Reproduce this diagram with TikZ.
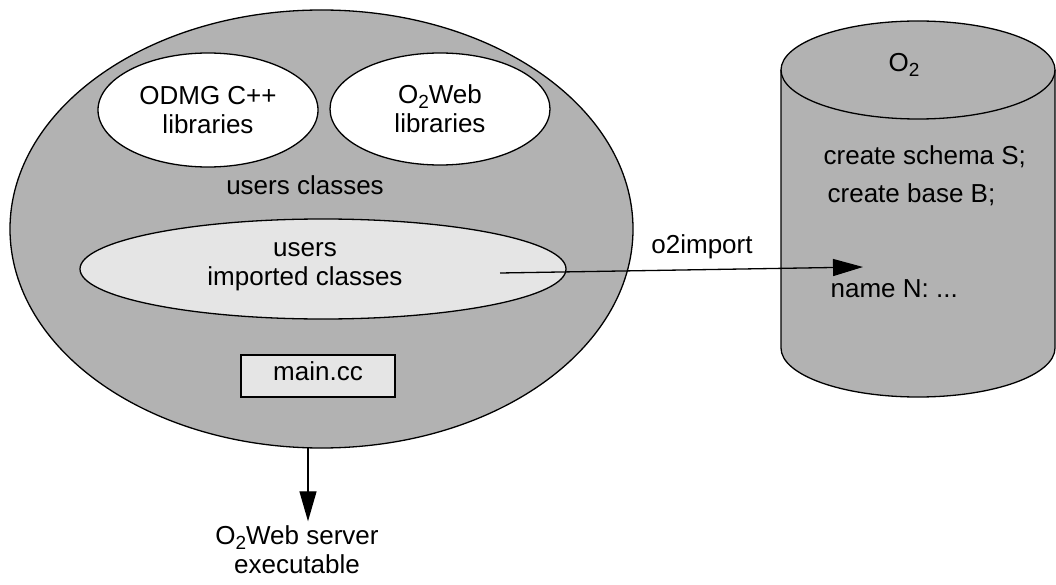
\documentclass[tikz,border=0pt]{standalone}
\usepackage{fontspec}
\setmainfont{Liberation Sans}
\usetikzlibrary{shapes, arrows.meta, positioning}
\definecolor{bodygray}{gray}{0.7}
\definecolor{palegray}{gray}{0.9}
\newcommand{\Otwo}{O\raisebox{-5pt}{\fontsize{19}{19}\selectfont 2}}

\begin{document}
\begin{tikzpicture}[x=1pt, y=-1pt, line width=1.3pt,
    every node/.style={font=\fontsize{26}{29}\selectfont, inner sep=4pt},
    blob/.style={draw, ellipse, inner sep=0pt},
    >={Triangle[length=30pt, width=17pt]}]
    \useasboundingbox (0,0) rectangle (1056,585);

    % Draw the application
    \node (app)  [blob, fill=bodygray, minimum width=623pt, minimum height=438pt] at (321.5,229) {};
    \node (odmg) [blob, fill=white, align=center, minimum width=220pt, minimum height=114pt] at (208,110) {ODMG C++\\libraries};
    \node (web)  [blob, fill=white, align=center, minimum width=220pt, minimum height=112pt] at (440,109) {\Otwo Web\\libraries};
    \node (users) [anchor=base] at (305,195) {users classes};
    \node (imp)  [blob, fill=palegray, minimum width=486pt, minimum height=100pt] at (323,269) {};
    \node (imptext) [align=center] at (305,266.5) {users\\imported classes};
    \node (main) [draw, fill=palegray, minimum width=154pt, minimum height=42pt, inner sep=0pt,
                  text height=13pt, text depth=5pt] at (318,376) {main.cc};

    % Draw the database
    \fill[bodygray] (781,70) -- (781,348) arc[start angle=180, end angle=0, x radius=137, y radius=49]
        -- (1055,70) arc[start angle=0, end angle=-180, x radius=137, y radius=49] -- cycle;
    \draw (781,70) -- (781,348) arc[start angle=180, end angle=0, x radius=137, y radius=49] -- (1055,70);
    \draw (918,70) ellipse [x radius=137, y radius=49];
    \node (dbname) [anchor=base] at (904,72) {\Otwo};
    \node (schema) [anchor=base west, inner sep=0pt] at (823,165) {create schema S;};
    \node (base)   [anchor=base west, inner sep=0pt] at (827,203) {create base B;};
    \node (name)   [anchor=base west, inner sep=0pt] at (830,297) {name N: ...};

    % Draw the connecting lines
    \coordinate (impout) at (500,273);
    \coordinate (dbin) at (863,267);
    \draw [->] (impout) -- (dbin);
    \node (o2import) [anchor=base] at (702,253) {o2import};

    \node (exe) [align=center] at (297,550) {\Otwo Web server\\executable};
    \coordinate (appout) at (308,447);
    \draw [->] (appout) -- (appout |- exe.north);
\end{tikzpicture}
\end{document}
